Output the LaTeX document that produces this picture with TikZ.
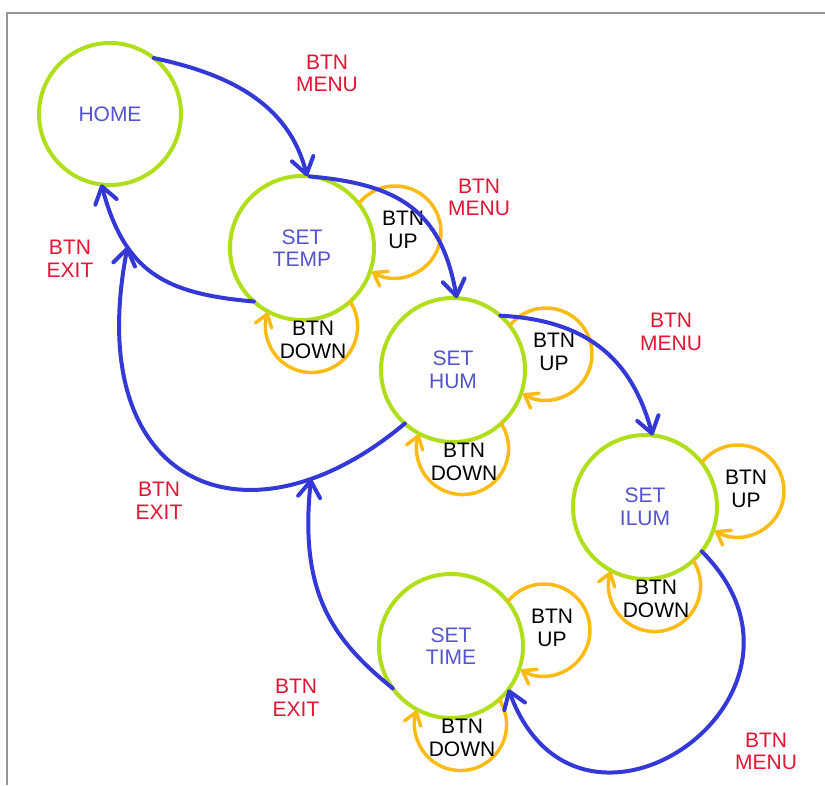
\documentclass[tikz,border=0pt]{standalone}
\usepackage{fontspec}
\setmainfont{Liberation Sans}
\usetikzlibrary{arrows.meta}

\definecolor{stategreen}{RGB}{176,222,26}
\definecolor{menublue}{RGB}{52,56,214}
\definecolor{statetext}{RGB}{84,84,206}
\definecolor{loopgold}{RGB}{250,188,20}
\definecolor{labelred}{RGB}{226,22,52}
\definecolor{framegray}{RGB}{150,150,150}

\tikzset{
  labelfont/.style={font=\fontsize{21}{22.5}\selectfont},
  statenode/.style={circle, draw=stategreen, line width=4pt, minimum size=144pt,
    inner sep=0pt, outer sep=0pt, text=statetext, align=center, labelfont},
  trans/.style={draw=menublue, line width=4pt, line cap=round,
    -{Straight Barb[length=16pt,width=22pt,round]}},
  selfloop/.style={draw=loopgold, line width=3.5pt, line cap=round,
    -{Straight Barb[length=12pt,width=17pt,round]}},
  evtlabel/.style={text=labelred, align=center, inner sep=0pt, labelfont},
  btnlabel/.style={text=black, align=center, inner sep=0pt, labelfont},
}

\begin{document}
\begin{tikzpicture}[x=1pt,y=1pt]
  \useasboundingbox[fill=white] (0,0) rectangle (825,-785);
  \draw[framegray, line width=2pt] (7,-785) -- (7,-13) -- (825,-13);

  % states
  \node[statenode, minimum size=142pt] (home) at (110,-114) {HOME};
  \node[statenode] (temp) at (302,-248) {SET\\TEMP};
  \node[statenode] (hum)  at (453,-370) {SET\\HUM};
  \node[statenode] (ilum) at (645,-507) {SET\\ILUM};
  \node[statenode] (time) at (451,-646) {SET\\TIME};

  % BTN UP / BTN DOWN self loops
  \foreach \s in {temp,hum,ilum,time}{
    \draw[selfloop] (\s.38) arc[start angle=142, end angle=-120, radius=46];
    \draw[selfloop] (\s.-48) arc[start angle=33, end angle=-198, radius=46];
  }

  \node[btnlabel] (tempup)   at (403,-230) {BTN\\UP};
  \node[btnlabel] (tempdown) at (313,-340) {BTN\\DOWN};
  \node[btnlabel] (humup)    at (554,-352) {BTN\\UP};
  \node[btnlabel] (humdown)  at (464,-462) {BTN\\DOWN};
  \node[btnlabel] (ilumup)   at (746,-489) {BTN\\UP};
  \node[btnlabel] (ilumdown) at (656,-599) {BTN\\DOWN};
  \node[btnlabel] (timeup)   at (552,-628) {BTN\\UP};
  \node[btnlabel] (timedown) at (462,-738) {BTN\\DOWN};

  % BTN MENU transitions
  \draw[trans] (home.52) to[out=-12, in=104] (temp.86);
  \draw[trans] (temp.84) to[out=-5, in=100, looseness=1.2] (hum.87);
  \draw[trans] (hum.49) to[out=-3, in=105, looseness=1.1] (ilum.84);
  \draw[trans] (ilum.-38) to[out=-45, in=-70, looseness=2.2] (time.-37);

  % BTN EXIT transitions
  \draw[trans] (temp.-132) to[out=175, in=-75, looseness=1.2]
    coordinate[pos=0.7] (exitjoin) (home.-97);
  \draw[trans] (hum.-132) to[out=220, in=-101, out looseness=1.6, in looseness=1.9]
    coordinate[pos=0.2] (exitjointwo) (exitjoin);
  \draw[trans] (time.-144) to[out=141, in=-96, out looseness=0.89, in looseness=1.3]
    (exitjointwo);

  % event labels
  \node[evtlabel] (menuone)   at (327,-73.5)  {BTN\\MENU};
  \node[evtlabel] (menutwo)   at (479,-197.5) {BTN\\MENU};
  \node[evtlabel] (menuthree) at (671,-332)   {BTN\\MENU};
  \node[evtlabel] (menufour)  at (766,-751.5) {BTN\\MENU};
  \node[evtlabel] (exitone)   at (70,-259)    {BTN\\EXIT};
  \node[evtlabel] (exittwo)   at (159,-501)   {BTN\\EXIT};
  \node[evtlabel] (exitthree) at (296,-698)   {BTN\\EXIT};
\end{tikzpicture}
\end{document}
